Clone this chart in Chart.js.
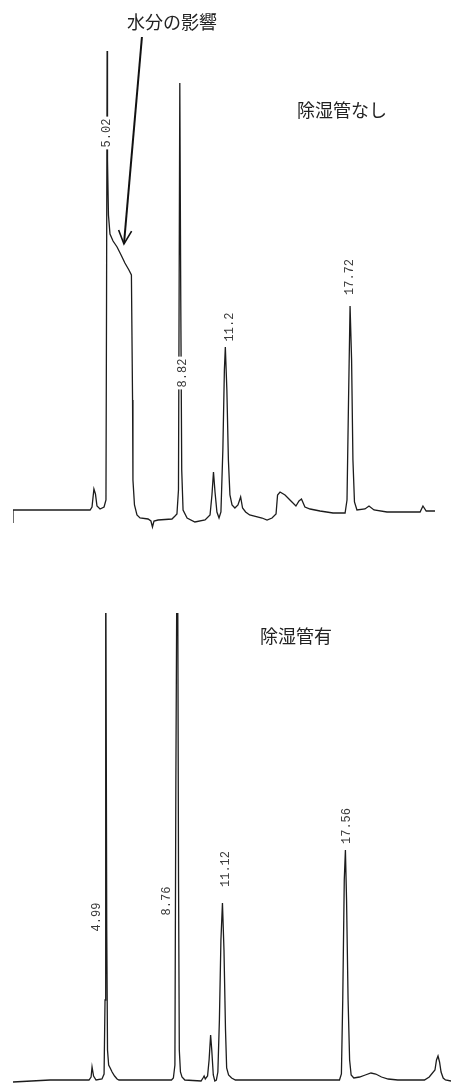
<!DOCTYPE html>
<html>
<head>
<meta charset="utf-8">
<script src="https://cdn.jsdelivr.net/npm/chart.js@4.4.1/dist/chart.umd.min.js"></script>
<style>
  html, body { margin: 0; padding: 0; background: #fff; }
  #wrap { position: relative; width: 451px; height: 1084px; overflow: hidden; }
  canvas { position: absolute; left: 0; }
  #chart-top { top: 0; }
  #chart-bottom { top: 540px; }
</style>
</head>
<body>
<div id="wrap">
  <canvas id="chart-top" width="451" height="540"></canvas>
  <canvas id="chart-bottom" width="451" height="544"></canvas>
</div>
<script>
// 除湿管なし (retention time, min / detector signal)
const TOP_TIME = [
  0.10, 0.10, 2.03, 4.13, 4.23, 4.33, 4.41, 4.49, 4.65, 4.86, 4.96, 4.99, 5.02, 5.04, 5.09,
  5.17, 5.33, 5.54, 5.75, 5.95, 6.16, 6.29, 6.35, 6.37, 6.45, 6.58, 6.74, 7.16, 7.31, 7.39,
  7.47, 7.68, 8.41, 8.57, 8.67, 8.75, 8.82, 8.87, 8.92, 8.99, 9.20, 9.61, 10.14, 10.40, 10.50,
  10.58, 10.66, 10.76, 10.87, 10.97, 11.07, 11.15, 11.20, 11.28, 11.36, 11.44, 11.55, 11.70, 11.86, 12.00,
  12.10, 12.26, 12.47, 13.12, 13.38, 13.64, 13.85, 13.93, 14.06, 14.32, 14.63, 14.89, 15.05, 15.18, 15.36,
  15.63, 16.15, 16.83, 17.46, 17.56, 17.64, 17.72, 17.80, 17.87, 17.95, 18.08, 18.50, 18.71, 18.97, 19.65,
  21.38, 21.53, 21.70, 22.16,
];
const TOP_SIGNAL = [
  -13, 0, 0, 0, 3, 21, 16, 4, 1, 3, 10, 210, 459, 350, 295,
  276, 269, 263, 255, 247, 240, 235, 110, 30, 5, -5, -8, -9, -11, -17,
  -11, -10, -9, -6, -4, 20, 427, 210, 40, 0, -8, -12, -10, -5, 15,
  38, 18, -2, -8, -2, 60, 140, 163, 120, 50, 15, 5, 2, 5, 13,
  2, -2, -5, -8, -10, -8, -4, 15, 18, 15, 9, 4, 9, 11, 3,
  1, -1, -3, -3, 10, 110, 204, 150, 50, 8, 0, 1, 4, 0, -2,
  -2, 4, -1, -1,
];

// 除湿管有
const BOTTOM_TIME = [
  0.15, 2.09, 4.13, 4.24, 4.29, 4.37, 4.50, 4.81, 4.92, 4.97, 4.99, 5.02, 5.06, 5.10, 5.16,
  5.24, 5.34, 5.47, 5.60, 5.70, 8.45, 8.55, 8.63, 8.68, 8.76, 8.82, 8.86, 8.92, 9.00, 9.15,
  10.00, 10.10, 10.16, 10.22, 10.34, 10.42, 10.50, 10.56, 10.64, 10.72, 10.80, 10.88, 10.96, 11.04, 11.12,
  11.20, 11.28, 11.34, 11.44, 11.60, 11.80, 14.00, 17.25, 17.35, 17.42, 17.50, 17.56, 17.62, 17.70, 17.78,
  17.86, 18.00, 18.30, 18.60, 18.90, 19.15, 19.45, 19.80, 20.30, 21.70, 21.95, 22.25, 22.33, 22.41, 22.49,
  22.57, 22.68, 22.80, 23.09,
];
const BOTTOM_SIGNAL = [
  -2, 0, 0, 3, 13, 4, 0, 1, 6, 80, 620, 560, 150, 30, 15,
  12, 8, 4, 1, 0, 0, 2, 15, 300, 620, 200, 30, 8, 3, 0,
  -1, 2, 4, 1, 4, 20, 45, 30, 5, -1, 0, 8, 60, 140, 177,
  130, 50, 12, 5, 2, 0, 0, 0, 6, 80, 200, 230, 180, 80, 20,
  5, 2, 3, 5, 7, 6, 3, 1, 0, 0, 3, 10, 20, 24, 18,
  8, 2, 0, -1,
];

// peak labels: text, centre time, centre signal
const TOP_PEAK_TEXT = ['5.02', '8.82', '11.2', '17.72'];
const TOP_PEAK_X    = [4.99, 8.93, 11.42, 17.69];
const TOP_PEAK_Y    = [377, 137, 183, 233];
const BOTTOM_PEAK_TEXT = ['4.99', '8.76', '11.12', '17.56'];
const BOTTOM_PEAK_X    = [4.50, 8.16, 11.28, 17.62];
const BOTTOM_PEAK_Y    = [163, 179, 211, 254];

// captions
const TOP_NOTES = [
  { text: '水分の影響', x: 8.41, y: 488 },
  { text: '除湿管なし', x: 17.30, y: 400 },
];
const BOTTOM_NOTES = [
  { text: '除湿管有', x: 14.97, y: 444 },
];
// arrow: tail then tip
const TOP_ARROW = { x0: 6.84, y0: 473, x1: 5.90, y1: 266 };

const TRACE_COLOR = '#1c1c1c';

const chromPlugin = {
  id: 'chrom',
  afterDatasetsDraw(chart, args, opts) {
    const { ctx, scales: { x, y } } = chart;
    ctx.save();

    ctx.font = '12px "Liberation Mono", "DejaVu Sans Mono", monospace';
    ctx.textAlign = 'center';
    ctx.textBaseline = 'middle';
    opts.peakText.forEach((t, i) => {
      const px = x.getPixelForValue(opts.peakX[i]);
      const py = y.getPixelForValue(opts.peakY[i]);
      const w  = ctx.measureText(t).width;
      ctx.save();
      ctx.translate(px, py);
      ctx.rotate(-Math.PI / 2);
      ctx.fillStyle = '#fff';
      ctx.fillRect(-w / 2 - 2, -6, w + 4, 12);
      ctx.fillStyle = '#3a3a3a';
      ctx.fillText(t, 0, 0.5);
      ctx.restore();
    });

    ctx.font = '18px "Noto Sans CJK JP", sans-serif';
    ctx.fillStyle = '#222';
    opts.notes.forEach(n => {
      ctx.fillText(n.text, x.getPixelForValue(n.x), y.getPixelForValue(n.y));
    });

    if (opts.arrow) {
      const a  = opts.arrow;
      const x0 = x.getPixelForValue(a.x0), y0 = y.getPixelForValue(a.y0);
      const x1 = x.getPixelForValue(a.x1), y1 = y.getPixelForValue(a.y1);
      const ang = Math.atan2(y1 - y0, x1 - x0);
      ctx.strokeStyle = '#111';
      ctx.lineWidth = 2;
      ctx.beginPath();
      ctx.moveTo(x0, y0);
      ctx.lineTo(x1, y1);
      ctx.stroke();
      ctx.lineWidth = 1.6;
      ctx.beginPath();
      ctx.moveTo(x1 - 15 * Math.cos(ang - 0.45), y1 - 15 * Math.sin(ang - 0.45));
      ctx.lineTo(x1, y1);
      ctx.lineTo(x1 - 15 * Math.cos(ang + 0.45), y1 - 15 * Math.sin(ang + 0.45));
      ctx.stroke();
    }
    ctx.restore();
  },
};

function buildTrace(canvasId, times, signal, xr, yr, pad, extra) {
  const ctx = document.getElementById(canvasId).getContext('2d');
  return new Chart(ctx, {
    type: 'line',
    data: {
      datasets: [{
        data: times.map((t, i) => ({ x: t, y: signal[i] })),
        borderColor: TRACE_COLOR,
        borderWidth: 1.3,
        pointRadius: 0,
        tension: 0,
        fill: false,
      }],
    },
    options: {
      responsive: false,
      animation: false,
      devicePixelRatio: 1,
      layout: { padding: pad },
      plugins: { legend: { display: false }, tooltip: { enabled: false }, chrom: extra },
      scales: {
        x: { type: 'linear', min: xr[0], max: xr[1], display: false },
        y: { type: 'linear', min: yr[0], max: yr[1], display: false },
      },
    },
    plugins: [chromPlugin],
  });
}

buildTrace('chart-top', TOP_TIME, TOP_SIGNAL, [0.1, 22.16], [-30, 470],
  { left: 13, right: 16, top: 40, bottom: 0 },
  { peakText: TOP_PEAK_TEXT, peakX: TOP_PEAK_X, peakY: TOP_PEAK_Y, notes: TOP_NOTES, arrow: TOP_ARROW });

buildTrace('chart-bottom', BOTTOM_TIME, BOTTOM_SIGNAL, [0.15, 23.09], [-4, 467],
  { left: 13, right: 0, top: 73, bottom: 0 },
  { peakText: BOTTOM_PEAK_TEXT, peakX: BOTTOM_PEAK_X, peakY: BOTTOM_PEAK_Y, notes: BOTTOM_NOTES, arrow: null });
</script>
</body>
</html>
